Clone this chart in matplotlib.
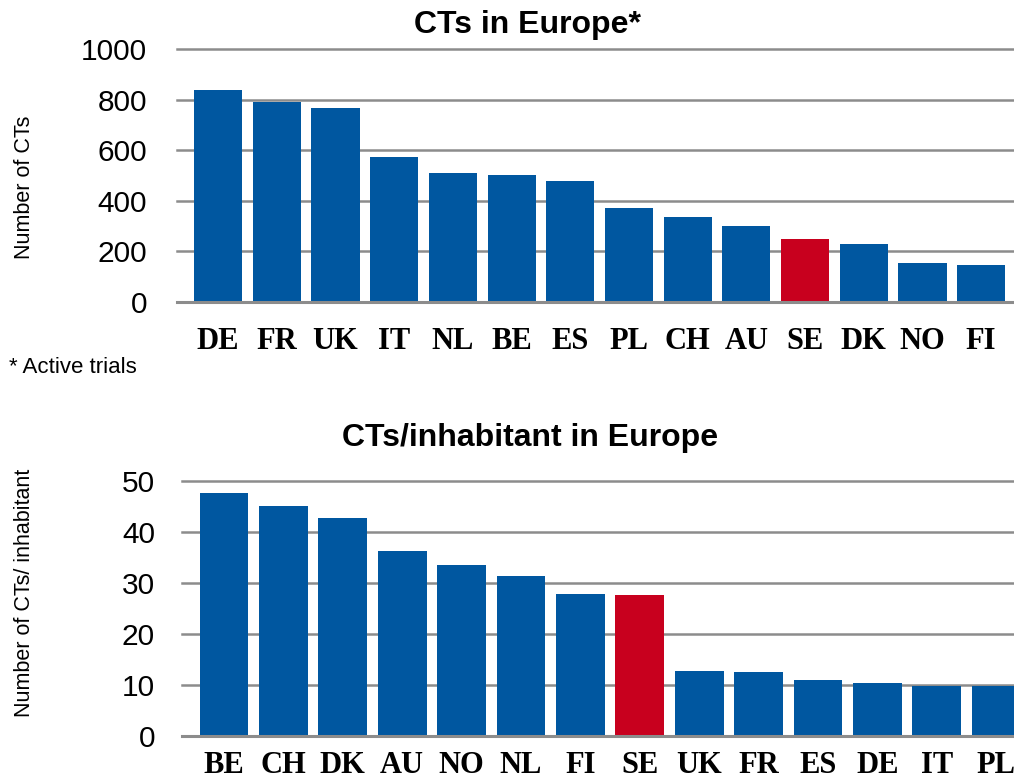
import matplotlib
matplotlib.use("Agg")
import matplotlib.pyplot as plt

top_countries = ["DE", "FR", "UK", "IT", "NL", "BE", "ES", "PL", "CH", "AU", "SE", "DK", "NO", "FI"]
top_values = [840, 792, 768, 574, 511, 503, 479, 372, 336, 300, 249, 229, 154, 146]

bot_countries = ["BE", "CH", "DK", "AU", "NO", "NL", "FI", "SE", "UK", "FR", "ES", "DE", "IT", "PL"]
bot_values = [47.5, 45.0, 42.7, 36.2, 33.5, 31.3, 27.8, 27.6, 12.7, 12.5, 10.9, 10.3, 9.8, 9.8]

BLUE = "#0057A0"
RED = "#C8001E"
GRID = "#8C8C8C"

fig = plt.figure(figsize=(10.14, 7.80), dpi=100)


def style_axes(ax, countries, values, ylim, yticks, xlim, label_pad, xpad):
    colors = [RED if c == "SE" else BLUE for c in countries]
    ax.bar(range(len(countries)), values, width=0.82, color=colors, zorder=3)
    ax.set_xlim(*xlim)
    ax.set_ylim(*ylim)
    ax.set_yticks(yticks)
    ax.set_yticklabels([str(t) for t in yticks], fontsize=21.5, family="Liberation Sans")
    ax.set_xticks(range(len(countries)))
    ax.set_xticklabels(countries, fontsize=22, family="Liberation Serif", fontweight="bold")
    ax.tick_params(axis="both", length=0)
    ax.tick_params(axis="y", pad=label_pad)
    ax.tick_params(axis="x", pad=xpad)
    for s in ax.spines.values():
        s.set_visible(False)
    for t in yticks:
        ax.axhline(t, color=GRID, lw=2.2 if t == 0 else 1.8, zorder=2 if t else 4, clip_on=False)
    ax.set_facecolor("none")


ax1 = fig.add_axes([0.1746, 0.6132, 0.8254, 0.3236])
style_axes(ax1, top_countries, top_values, (0, 1000), [0, 200, 400, 600, 800, 1000],
           (-0.7, 13.56), 21.5, 18)
fig.text(0.024, 0.76, "Number of CTs", rotation=90, fontsize=15.5, family="Liberation Sans",
         ha="center", va="center")
fig.text(0.52, 0.968, "CTs in Europe*", fontsize=23, fontweight="bold", family="Liberation Sans",
         ha="center", va="center")
fig.text(0.009, 0.529, "* Active trials", fontsize=16, family="Liberation Sans",
         ha="left", va="center")

ax2 = fig.add_axes([0.1795, 0.0568, 0.8205, 0.3269])
style_axes(ax2, bot_countries, bot_values, (0, 50), [0, 10, 20, 30, 40, 50],
           (-0.707, 13.3), 19.5, 11)
fig.text(0.024, 0.24, "Number of CTs/ inhabitant", rotation=90, fontsize=15.5, family="Liberation Sans",
         ha="center", va="center")
fig.text(0.523, 0.4385, "CTs/inhabitant in Europe", fontsize=23, fontweight="bold",
         family="Liberation Sans", ha="center", va="center")

fig.savefig("out.png", dpi=100)
